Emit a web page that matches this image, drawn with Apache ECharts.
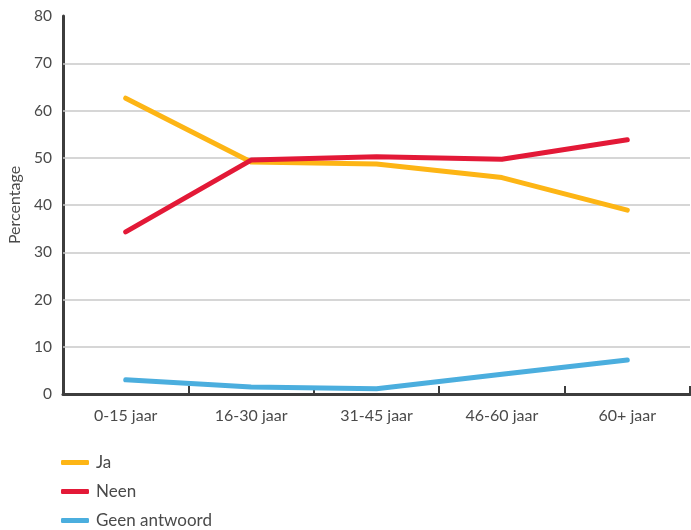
<!DOCTYPE html>
<html>
<head>
<meta charset="utf-8">
<script src="https://cdn.jsdelivr.net/npm/echarts@6/dist/echarts.min.js"></script>
<style>
  html, body { margin: 0; padding: 0; background: #fff; }
  #chart { width: 691px; height: 530px; }
</style>
</head>
<body>
<div id="chart"></div>
<script>
// Age groups on the x axis
const categories = ['0-15 jaar', '16-30 jaar', '31-45 jaar', '46-60 jaar', '60+ jaar'];

// Share of answers per age group (%)
const ja = [62.6, 49.1, 48.7, 45.8, 38.9];
const neen = [34.3, 49.5, 50.2, 49.7, 53.8];
const geenAntwoord = [3.0, 1.5, 1.1, 4.2, 7.2];

// Horizontal reference lines (the 80 level has none)
const gridLevels = [10, 20, 30, 40, 50, 60, 70];

const FONT = 'Lato, "Open Sans", sans-serif';
const TEXT = '#4a4a4a';

const chart = echarts.init(document.getElementById('chart'));

function lineSeries(name, data, color, extra) {
  return Object.assign({
    name: name,
    type: 'line',
    data: data,
    symbol: 'none',
    smooth: false,
    color: color,
    lineStyle: { width: 5, color: color, cap: 'round', join: 'round' },
    emphasis: { disabled: true },
    z: 3
  }, extra || {});
}

chart.setOption({
  animation: false,
  textStyle: { fontFamily: FONT },
  grid: {
    left: 63, right: 1, top: 16, bottom: 136,
    containLabel: false,
    outerBoundsMode: 'none'
  },
  legend: {
    orient: 'vertical',
    left: 61,
    top: 454,
    padding: 0,
    itemGap: 12,
    itemWidth: 28,
    itemHeight: 5,
    icon: 'roundRect',
    textStyle: { fontFamily: FONT, fontSize: 17, color: TEXT, padding: [0, 0, 0, 2] },
    data: ['Ja', 'Neen', 'Geen antwoord']
  },
  xAxis: {
    type: 'category',
    data: categories,
    boundaryGap: true,
    axisLine: { lineStyle: { color: '#3d3d3d', width: 3 } },
    axisTick: { show: true, inside: true, length: 8, lineStyle: { color: '#3d3d3d', width: 2 } },
    axisLabel: { fontFamily: FONT, fontSize: 16, color: TEXT, margin: 14 },
    splitLine: { show: false }
  },
  yAxis: {
    type: 'value',
    min: 0,
    max: 80,
    interval: 10,
    name: 'Percentage',
    nameLocation: 'middle',
    nameGap: 40,
    nameRotate: 90,
    nameTextStyle: { fontFamily: FONT, fontSize: 16, color: TEXT },
    axisLine: { show: true, lineStyle: { color: '#3d3d3d', width: 3 } },
    axisTick: { show: false },
    axisLabel: { fontFamily: FONT, fontSize: 15.5, color: TEXT, margin: 11 },
    splitLine: { show: false }
  },
  series: [
    lineSeries('Ja', ja, '#FDB515', {
      markLine: {
        silent: true,
        symbol: 'none',
        label: { show: false },
        lineStyle: { color: '#c9c9c9', width: 1.5, type: 'solid' },
        data: gridLevels.map(v => ({ yAxis: v })),
        z: 1
      }
    }),
    lineSeries('Neen', neen, '#E31937'),
    lineSeries('Geen antwoord', geenAntwoord, '#4BAEDE')
  ]
});
</script>
</body>
</html>
